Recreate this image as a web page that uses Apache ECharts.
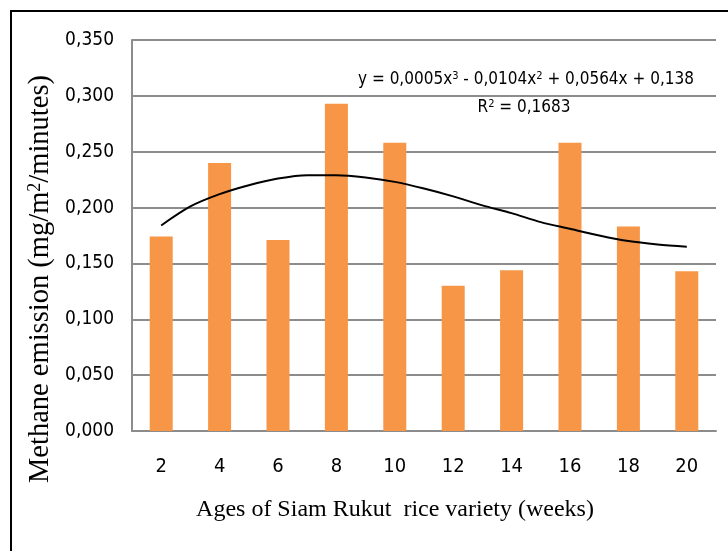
<!DOCTYPE html>
<html>
<head>
<meta charset="utf-8">
<script src="https://cdn.jsdelivr.net/npm/echarts@6/dist/echarts.min.js"></script>
<style>
  html, body { margin: 0; padding: 0; background: #fff; }
  #chart { width: 728px; height: 551px; }
</style>
</head>
<body>
<div id="chart"></div>
<script>
// ages (weeks)
const weeks = ['2', '4', '6', '8', '10', '12', '14', '16', '18', '20'];
// methane emission per age
const emission = [0.174, 0.240, 0.171, 0.293, 0.258, 0.130, 0.144, 0.258, 0.183, 0.143];
// polynomial trend line, every half category (1 = first age)
const trendX = [1, 1.5, 2, 2.5, 3, 3.5, 4, 4.5, 5, 5.5, 6, 6.5, 7, 7.5, 8, 8.5, 9, 9.5, 10];
const trendY = [0.184, 0.201, 0.212, 0.220, 0.226, 0.229, 0.229, 0.227, 0.223, 0.217, 0.210,
  0.202, 0.195, 0.187, 0.181, 0.175, 0.170, 0.167, 0.165];

const narrow = '"Liberation Sans Narrow", "DejaVu Sans Condensed", sans-serif';
const serif = '"Liberation Serif", "DejaVu Serif", serif';

const chart = echarts.init(document.getElementById('chart'));

chart.setOption({
  animation: false,
  grid: { left: 132, right: 12, top: 40, bottom: 120 },
  xAxis: [
    {
      type: 'category',
      data: weeks,
      axisLine: { lineStyle: { color: '#8c8c8c', width: 2 } },
      axisTick: { show: false },
      axisLabel: { color: '#000', fontFamily: narrow, fontSize: 20, margin: 26 }
    },
    {
      // hidden value axis lined up with the category centres, for the trend line
      type: 'value',
      min: 0.5,
      max: 10.5,
      show: false
    }
  ],
  yAxis: {
    type: 'value',
    min: 0,
    max: 0.35,
    interval: 0.05,
    axisLine: { show: true, lineStyle: { color: '#8c8c8c', width: 2 } },
    axisTick: { show: false },
    splitLine: { lineStyle: { color: '#8c8c8c', width: 2 } },
    axisLabel: {
      color: '#000', fontFamily: narrow, fontSize: 19, margin: 18,
      formatter: v => v.toFixed(3).replace('.', ',')
    }
  },
  series: [
    {
      type: 'bar',
      data: emission,
      barWidth: 23,
      itemStyle: { color: '#F79646' }
    },
    {
      type: 'line',
      xAxisIndex: 1,
      data: trendX.map((x, i) => [x, trendY[i]]),
      smooth: 0.3,
      symbol: 'none',
      lineStyle: { color: '#000', width: 2 },
      z: 5
    }
  ],
  graphic: [
    {
      type: 'rect',
      shape: { x: 11, y: 11, width: 740, height: 560 },
      style: { fill: 'none', stroke: '#000', lineWidth: 2 }
    },
    {
      type: 'text',
      x: 41, y: 279,
      rotation: Math.PI / 2,
      style: {
        text: '{t|Methane emission (mg/m}{s|2}{t|/minutes)}',
        align: 'center', verticalAlign: 'middle',
        rich: {
          t: { fontFamily: serif, fontSize: 28.5, fill: '#000' },
          s: { fontFamily: serif, fontSize: 18, fill: '#000', verticalAlign: 'top', padding: [0, 0, 12, 0] }
        }
      }
    },
    {
      type: 'text',
      x: 395, y: 510,
      style: {
        text: 'Ages of Siam Rukut  rice variety (weeks)',
        align: 'center', verticalAlign: 'middle',
        fontFamily: serif, fontSize: 24, fill: '#000'
      }
    },
    {
      type: 'text',
      x: 526, y: 80,
      style: {
        text: '{t|y = 0,0005x}{s|3}{t| - 0,0104x}{s|2}{t| + 0,0564x + 0,138}',
        align: 'center', verticalAlign: 'middle',
        rich: {
          t: { fontFamily: narrow, fontSize: 17, fill: '#000' },
          s: { fontFamily: narrow, fontSize: 11, fill: '#000', verticalAlign: 'top', padding: [0, 0, 8, 0] }
        }
      }
    },
    {
      type: 'text',
      x: 524, y: 108,
      style: {
        text: '{t|R}{s|2}{t| = 0,1683}',
        align: 'center', verticalAlign: 'middle',
        rich: {
          t: { fontFamily: narrow, fontSize: 17, fill: '#000' },
          s: { fontFamily: narrow, fontSize: 11, fill: '#000', verticalAlign: 'top', padding: [0, 0, 8, 0] }
        }
      }
    }
  ]
});
</script>
</body>
</html>
